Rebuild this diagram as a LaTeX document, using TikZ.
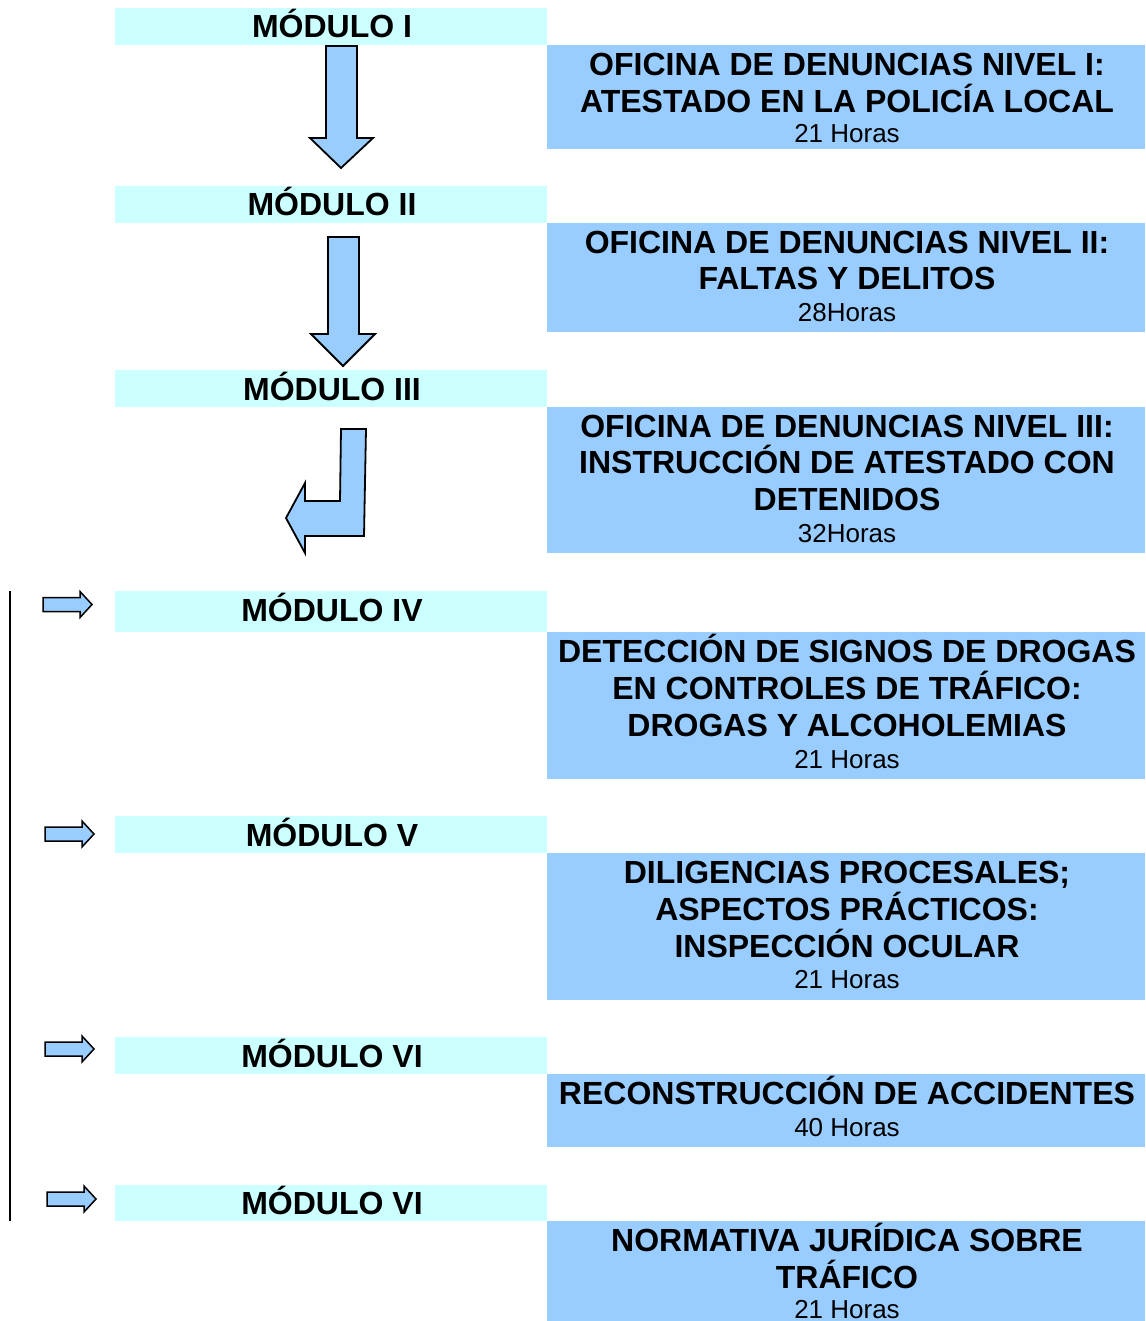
\documentclass[tikz,border=0pt]{standalone}
\usepackage{fontspec}
\setmainfont{Liberation Sans}
\definecolor{modcyan}{HTML}{CCFFFF}
\definecolor{offblue}{HTML}{99CCFF}
\begin{document}
\begin{tikzpicture}[x=1pt,y=-1pt,
  modbox/.style={fill=modcyan,inner sep=0pt,minimum width=432pt},
  offbox/.style={fill=offblue,inner sep=0pt,minimum width=598pt},
  bt/.style={anchor=base,inner sep=0pt,font=\fontsize{32}{37}\selectfont\bfseries},
  ht/.style={anchor=base,inner sep=0pt,font=\fontsize{26}{30}\selectfont},
  arr/.style={fill=offblue,draw=black,line width=1.8pt,line join=miter}]
\useasboundingbox (0,0) rectangle (1145,1321);
% module boxes
\node[modbox,minimum height=37pt] (m1) at (331,26.5) {};
\node[modbox,minimum height=37pt] (m2) at (331,204.5) {};
\node[modbox,minimum height=37pt] (m3) at (331,388.5) {};
\node[modbox,minimum height=41pt] (m4) at (331,611.5) {};
\node[modbox,minimum height=37pt] (m5) at (331,834.5) {};
\node[modbox,minimum height=37pt] (m6) at (331,1055.5) {};
\node[modbox,minimum height=36pt] (m7) at (331,1203) {};
% office boxes
\node[offbox,minimum height=104pt] (o1) at (846,97) {};
\node[offbox,minimum height=109pt] (o2) at (846,277.5) {};
\node[offbox,minimum height=146pt] (o3) at (846,480) {};
\node[offbox,minimum height=147pt] (o4) at (846,705.5) {};
\node[offbox,minimum height=147pt] (o5) at (846,926.5) {};
\node[offbox,minimum height=73pt] (o6) at (846,1110.5) {};
\node[offbox,minimum height=100pt] (o7) at (846,1271) {};
% module labels
\node[bt] (t1) at (332,38) {MÓDULO I};
\node[bt] (t2) at (332,216) {MÓDULO II};
\node[bt] (t3) at (332,400) {MÓDULO III};
\node[bt] (t4) at (332,621) {MÓDULO IV};
\node[bt] (t5) at (332,846) {MÓDULO V};
\node[bt] (t6) at (332,1067) {MÓDULO VI};
\node[bt] (t7) at (332,1214) {MÓDULO VI};
% office labels
\node[bt] (a1) at (847,75.5) {OFICINA DE DENUNCIAS NIVEL I:};
\node[bt] (a2) at (847,112.5) {ATESTADO EN LA POLICÍA LOCAL};
\node[ht] (a3) at (847,143) {21 Horas};
\node[bt] (b1) at (847,253.5) {OFICINA DE DENUNCIAS NIVEL II:};
\node[bt] (b2) at (847,289.5) {FALTAS Y DELITOS};
\node[ht] (b3) at (847,321) {28Horas};
\node[bt] (c1) at (847,437.5) {OFICINA DE DENUNCIAS NIVEL III:};
\node[bt] (c2) at (847,473.5) {INSTRUCCIÓN DE ATESTADO CON};
\node[bt] (c3) at (847,510.5) {DETENIDOS};
\node[ht] (c4) at (847,542) {32Horas};
\node[bt] (d1) at (847,662.5) {DETECCIÓN DE SIGNOS DE DROGAS};
\node[bt] (d2) at (847,699.5) {EN CONTROLES DE TRÁFICO:};
\node[bt] (d3) at (847,736.5) {DROGAS Y ALCOHOLEMIAS};
\node[ht] (d4) at (847,768) {21 Horas};
\node[bt] (e1) at (847,883.5) {DILIGENCIAS PROCESALES;};
\node[bt] (e2) at (847,920.5) {ASPECTOS PRÁCTICOS:};
\node[bt] (e3) at (847,957.5) {INSPECCIÓN OCULAR};
\node[ht] (e4) at (847,988) {21 Horas};
\node[bt] (f1) at (847,1104.5) {RECONSTRUCCIÓN DE ACCIDENTES};
\node[ht] (f2) at (847,1136) {40 Horas};
\node[bt] (g1) at (847,1251.5) {NORMATIVA JURÍDICA SOBRE};
\node[bt] (g2) at (847,1288.5) {TRÁFICO};
\node[ht] (g3) at (847,1318) {21 Horas};
% down arrows
\draw[arr] (326,46) -- (357,46) -- (357,138) -- (373,138) -- (341,168) -- (310,138) -- (326,138) -- cycle;
\draw[arr] (328,237) -- (359,237) -- (359,334) -- (375,334) -- (343,366) -- (311,334) -- (328,334) -- cycle;
% bent arrow
\draw[arr] (341,429) -- (366,429) -- (364,536) -- (305,536) -- (305,553) -- (286,518) -- (305,483) -- (305,501) -- (340,501) -- cycle;
% small right arrows
\foreach \xx/\yy in {43/604.5, 45/834, 45/1049, 47/1199}{
  \draw[fill=offblue,draw=black,line width=1.5pt,line join=miter]
    (\xx,\yy-7) -- (\xx+37,\yy-7) -- (\xx+37,\yy-13) -- (\xx+49,\yy) -- (\xx+37,\yy+13) -- (\xx+37,\yy+7) -- (\xx,\yy+7) -- cycle;
}
% vertical bracket line
\coordinate (vtop) at (10,591);
\coordinate (vbot) at (10,1221);
\draw[line width=1.8pt] (vtop) -- (vbot);
\end{tikzpicture}
\end{document}
